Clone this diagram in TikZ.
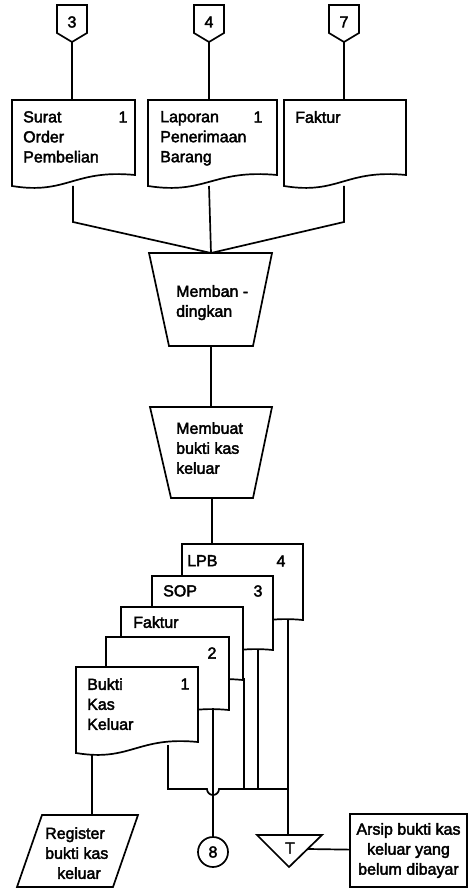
\documentclass[tikz,border=0pt]{standalone}
\usepackage{fontspec}
\setmainfont{Liberation Sans}[BoldFont={Liberation Sans},BoldFeatures={FakeBold=2.5}]
\usetikzlibrary{backgrounds}
\newcommand\chartfont{\fontsize{16}{20}\selectfont\bfseries}
% document symbol with a wavy lower edge: left, top, right, bottom (left end)
\newcommand\docsheet[4]{%
  \path[sheet] (#1,#2) -- (#3,#2) -- (#3,#4-11)
    .. controls ({#1+0.5*(#3-#1)},#4-17) and ({#1+0.45*(#3-#1)},#4+9) .. (#1,#4) -- cycle;}
\begin{document}
\begin{tikzpicture}[x=1pt,y=-1pt,
  sheet/.style={draw=black,fill=white,line width=1.7pt,line join=miter},
  wire/.style={draw=black,line width=1.7pt},
  txt/.style={inner sep=0pt,font=\chartfont,align=left,anchor=north west},
  num/.style={inner sep=0pt,font=\chartfont}]
\useasboundingbox (0,0) rectangle (469,890);

% ---------- connection points ----------
\coordinate (p3) at (72,42);   \coordinate (d1t) at (72,100);
\coordinate (p4) at (209,42);  \coordinate (d2t) at (209,100);
\coordinate (p7) at (344,42);  \coordinate (d3t) at (344,100);
\coordinate (d1b) at (73,186); \coordinate (d1k) at (73,222);
\coordinate (d2b) at (209,186);
\coordinate (d3b) at (344,186); \coordinate (d3k) at (344,222);
\coordinate (cmpT) at (211,253); \coordinate (cmpB) at (211,346);
\coordinate (mkT) at (211,407);  \coordinate (mkB) at (212,498);
\coordinate (lpbT) at (212,544);
\coordinate (lpbB) at (288,618);   \coordinate (lpbJ) at (288,789);
\coordinate (sopB) at (258,648);   \coordinate (sopJ) at (258,789);
\coordinate (fakB) at (244,678);   \coordinate (fakJ) at (244,789);
\coordinate (twoB) at (213,708);
\coordinate (bkrB) at (168,745);   \coordinate (bkrJ) at (168,789);
\coordinate (bklB) at (92,752);    \coordinate (regT) at (92,815);
\coordinate (hopL) at (207,789);   \coordinate (trT) at (288,835);
\coordinate (trR) at (308,849);

% ---------- connectors ----------
\begin{pgfonlayer}{background}
\draw[wire] (p3) -- (d1t);
\draw[wire] (p4) -- (d2t);
\draw[wire] (p7) -- (d3t);
\draw[wire] (d1b) -- (d1k) -- (cmpT);
\draw[wire] (d2b) -- (cmpT);
\draw[wire] (d3b) -- (d3k) -- (cmpT);
\draw[wire] (cmpB) -- (mkT);
\draw[wire] (mkB) -- (lpbT);
\draw[wire] (lpbB) -- (lpbJ) -- (trT);
\draw[wire] (sopB) -- (sopJ);
\draw[wire] (fakB) -- (fakJ);
\draw[wire] (bkrB) -- (bkrJ) -- (hopL) arc[start angle=180,end angle=0,radius=6] -- (lpbJ);
\draw[wire] (bklB) -- (regT);
\end{pgfonlayer}

% ---------- off-page connectors ----------
\foreach \cx/\lab in {72/3,209/4,344/7}{
  \path[sheet] (\cx-15,5) -- (\cx+15,5) -- (\cx+15,33) -- (\cx,42) -- (\cx-15,33) -- cycle;
  \node[num] (off\lab) at (\cx,22) {\lab};
}

% ---------- incoming documents ----------
\docsheet{12}{100}{135}{186}
\docsheet{148}{100}{277}{186}
\docsheet{284}{100}{406}{186}
\node[txt] (sop) at (23,111) {Surat\\Order\\Pembelian};
\node[num] (sopn) at (123,117) {1};
\node[txt] (lpb) at (160,111) {Laporan\\Penerimaan\\Barang};
\node[num] (lpbn) at (258,117) {1};
\node[txt] (fak) at (295,111) {Faktur};

% ---------- manual operations ----------
\path[sheet] (149,253) -- (272,253) -- (253,346) -- (169,346) -- cycle;
\node[txt] (cmp) at (176,285) {Memban -\\dingkan};
\path[sheet] (150,407) -- (272,407) -- (253,498) -- (171,498) -- cycle;
\node[txt] (mk) at (176,422) {Membuat\\bukti kas\\keluar};

% ---------- multi-part voucher ----------
\docsheet{182}{544}{303}{631}
\node[txt] (cLPB) at (187,555) {LPB};
\node[num] (nLPB) at (281,561) {4};
\docsheet{152}{576}{273}{661}
\node[txt] (cSOP) at (163,585) {SOP};
\node[num] (nSOP) at (258,591) {3};
\docsheet{121}{607}{243}{691}
\node[txt] (cFak) at (133,616) {Faktur};
\docsheet{106}{637}{229}{721}
\node[num] (nTwo) at (212,653) {2};
\docsheet{76}{667}{198}{753}
\node[txt] (cBkk) at (87,678) {Bukti\\Kas\\Keluar};
\node[num] (nBkk) at (185,684) {1};

% ---------- outputs ----------
\path[sheet] (42,815) -- (138,815) -- (113,887) -- (17,887) -- cycle;
\node[txt] (reg) at (45,827) {Register\\bukti kas\\\hspace*{12pt}keluar};

\node[draw,circle,line width=1.7pt,minimum size=30pt,inner sep=0pt,font=\chartfont,fill=white] (c8) at (213,852) {8};
\draw[wire] (twoB) -- (c8);

\path[sheet] (257,835) -- (322,835) -- (289,867) -- cycle;
\node[num] (tT) at (290,848) {T};

\node[draw,line width=1.7pt,minimum width=117pt,minimum height=73pt,inner sep=0pt,
      font=\chartfont,align=center] (arsip) at (408.5,850.5)
  {Arsip bukti kas\\keluar yang\\belum dibayar};
\draw[wire] (trR) -- (arsip);
\end{tikzpicture}
\end{document}
